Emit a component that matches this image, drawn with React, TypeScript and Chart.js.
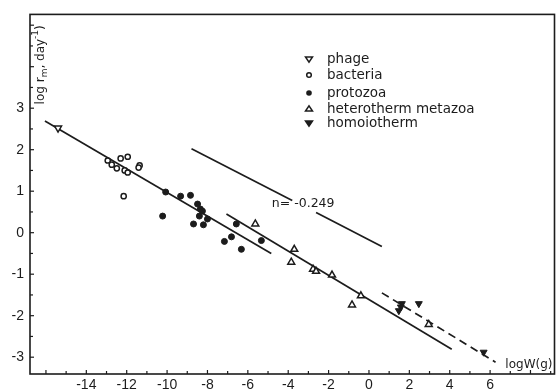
import React, { useEffect, useRef } from 'react';
import { Chart, registerables } from 'chart.js';

Chart.register(...registerables);

// ---------- data (log W in g, log r_m per day) ----------
const phageX = [-15.4];
const phageY = [2.52];

const bacteriaX = [-12.94, -12.74, -12.49, -12.3, -11.95, -12.1, -11.95, -11.36, -11.41, -12.15];
const bacteriaY = [1.74, 1.64, 1.55, 1.79, 1.83, 1.5, 1.45, 1.62, 1.57, 0.88];

const protozoaX = [-10.07, -9.33, -8.84, -8.49, -8.35, -8.25, -8.4, -8.0, -10.22, -8.69, -8.2, -6.57, -6.81, -7.16, -6.32, -5.33];
const protozoaY = [0.98, 0.88, 0.9, 0.69, 0.57, 0.52, 0.4, 0.33, 0.4, 0.21, 0.19, 0.21, -0.1, -0.21, -0.4, -0.19];

const metazoaX = [-5.63, -3.7, -3.85, -2.77, -2.62, -1.83, -0.4, -0.84, 2.96];
const metazoaY = [0.21, -0.4, -0.71, -0.88, -0.93, -1.02, -1.52, -1.74, -2.21];

const homoioX = [1.63, 1.58, 1.48, 2.47, 5.68];
const homoioY = [-1.71, -1.79, -1.88, -1.71, -2.88];

// regression lines (end points)
const lineAX = [-16.05, -4.84];
const lineAY = [2.69, -0.5];
const lineBX = [-7.06, 4.1];
const lineBY = [0.45, -2.81];
const slopeLineX = [-8.79, -3.8, -2.62, 0.64];
const slopeLineY = [2.02, 0.778, 0.484, -0.33];
const dashLineX = [0.64, 6.27];
const dashLineY = [-1.45, -3.12];

const slopeLabel = 'n= -0.249';
const slopeLabelX = -3.26;
const slopeLabelY = 0.69;

const xTickLabels = [-16, -14, -12, -10, -8, -6, -4, -2, 0, 2, 4, 6];
const yTickLabels = [-3, -2, -1, 0, 1, 2, 3];

const legendLabels = ['phage', 'bacteria', 'protozoa', 'heterotherm metazoa', 'homoiotherm'];

const X_MIN = -16.79;
const X_MAX = 9.19;
const Y_MIN = -3.405;
const Y_MAX = 5.26;

const INK = '#1c1c1c';

const zip = (xs: number[], ys: number[]) => xs.map((x, i) => ({ x, y: ys[i] }));

function drawMarker(ctx: CanvasRenderingContext2D, kind: number, x: number, y: number) {
  ctx.save();
  ctx.lineWidth = 1.5;
  ctx.strokeStyle = INK;
  ctx.fillStyle = INK;
  const r = 3.5;
  if (kind === 0 || kind === 4) {
    ctx.beginPath();
    ctx.moveTo(x - r, y - r * 0.6);
    ctx.lineTo(x + r, y - r * 0.6);
    ctx.lineTo(x, y + r * 0.9);
    ctx.closePath();
    if (kind === 4) ctx.fill();
    ctx.stroke();
  } else if (kind === 3) {
    ctx.beginPath();
    ctx.moveTo(x - r, y + r * 0.6);
    ctx.lineTo(x + r, y + r * 0.6);
    ctx.lineTo(x, y - r * 0.9);
    ctx.closePath();
    ctx.stroke();
  } else if (kind === 1) {
    ctx.beginPath();
    ctx.arc(x, y, 2.3, 0, Math.PI * 2);
    ctx.stroke();
  } else {
    ctx.beginPath();
    ctx.arc(x, y, 2.8, 0, Math.PI * 2);
    ctx.fill();
  }
  ctx.restore();
}

const decorPlugin = {
  id: 'decor',
  afterDraw(chart: any) {
    const ctx: CanvasRenderingContext2D = chart.ctx;
    const { left, right, top, bottom } = chart.chartArea;
    const xs = chart.scales.x;
    const ys = chart.scales.y;
    ctx.save();
    // frame
    ctx.strokeStyle = INK;
    ctx.lineWidth = 1.6;
    ctx.strokeRect(left, top, right - left, bottom - top);
    // x minor ticks
    ctx.lineWidth = 1.2;
    for (let v = -16; v <= 9; v++) {
      const px = xs.getPixelForValue(v);
      ctx.beginPath();
      ctx.moveTo(px, bottom);
      ctx.lineTo(px, bottom - (v % 2 === 0 ? 4 : 3));
      ctx.stroke();
    }
    // y minor ticks
    for (let v = -3; v <= 5; v += 0.5) {
      const py = ys.getPixelForValue(v);
      ctx.beginPath();
      ctx.moveTo(left, py);
      ctx.lineTo(left + (Number.isInteger(v) ? 4 : 3), py);
      ctx.stroke();
    }
    ctx.fillStyle = INK;
    // y title (rotated)
    ctx.save();
    ctx.translate(left + 11, top + 90);
    ctx.rotate(-Math.PI / 2);
    ctx.textBaseline = 'middle';
    ctx.textAlign = 'left';
    const big = "12px 'DejaVu Sans', sans-serif";
    const small = "9px 'DejaVu Sans', sans-serif";
    let cx = 0;
    const put = (t: string, f: string, dy: number) => {
      ctx.font = f;
      ctx.fillText(t, cx, dy);
      cx += ctx.measureText(t).width;
    };
    put('log r', big, 0);
    put('m', small, 4);
    put(', day', big, 0);
    put('-1', small, -5);
    put(')', big, 0);
    ctx.restore();
    // x title
    ctx.font = "12px 'DejaVu Sans', sans-serif";
    ctx.textAlign = 'right';
    ctx.textBaseline = 'alphabetic';
    ctx.fillText('logW(g)', right - 2, bottom - 6);
    // slope label
    ctx.font = "12.5px 'DejaVu Sans', sans-serif";
    ctx.textAlign = 'center';
    ctx.textBaseline = 'middle';
    ctx.fillText(slopeLabel, xs.getPixelForValue(slopeLabelX), ys.getPixelForValue(slopeLabelY));
    // legend
    const rowsY = [59, 75, 93, 109, 123];
    ctx.font = "13.5px 'DejaVu Sans', sans-serif";
    ctx.textAlign = 'left';
    legendLabels.forEach((lab, i) => {
      drawMarker(ctx, i, 309, rowsY[i]);
      ctx.fillStyle = INK;
      ctx.fillText(lab, 327, rowsY[i]);
    });
    ctx.restore();
  },
};

export default function App() {
  const ref = useRef<HTMLCanvasElement>(null);
  useEffect(() => {
    if (!ref.current) return;
    const lineDs = (xs: number[], ys: number[], dash: number[] = []) => ({
      data: zip(xs, ys),
      showLine: true,
      borderColor: INK,
      borderWidth: 1.7,
      borderDash: dash,
      pointRadius: 0,
      fill: false,
    });
    const chart = new Chart(ref.current, {
      type: 'scatter',
      data: {
        datasets: [
          {
            data: zip(phageX, phageY),
            pointStyle: 'triangle',
            rotation: 180,
            pointRadius: 4,
            pointBackgroundColor: '#fff',
            pointBorderColor: INK,
            pointBorderWidth: 1.5,
          },
          {
            data: zip(bacteriaX, bacteriaY),
            pointStyle: 'circle',
            pointRadius: 2.6,
            pointBackgroundColor: '#fff',
            pointBorderColor: INK,
            pointBorderWidth: 1.5,
          },
          {
            data: zip(protozoaX, protozoaY),
            pointStyle: 'circle',
            pointRadius: 3,
            pointBackgroundColor: INK,
            pointBorderColor: INK,
            pointBorderWidth: 1,
          },
          {
            data: zip(metazoaX, metazoaY),
            pointStyle: 'triangle',
            pointRadius: 4,
            pointBackgroundColor: '#fff',
            pointBorderColor: INK,
            pointBorderWidth: 1.5,
          },
          {
            data: zip(homoioX, homoioY),
            pointStyle: 'triangle',
            rotation: 180,
            pointRadius: 4,
            pointBackgroundColor: INK,
            pointBorderColor: INK,
            pointBorderWidth: 1,
          },
          lineDs(lineAX, lineAY),
          lineDs(lineBX, lineBY),
          lineDs(slopeLineX.slice(0, 2), slopeLineY.slice(0, 2)),
          lineDs(slopeLineX.slice(2), slopeLineY.slice(2)),
          lineDs(dashLineX, dashLineY, [8, 5]),
        ] as any,
      },
      options: {
        responsive: false,
        animation: false,
        devicePixelRatio: 1,
        layout: { padding: { top: 10, right: 4, left: 0, bottom: 0 } },
        plugins: { legend: { display: false }, tooltip: { enabled: false } },
        scales: {
          x: {
            type: 'linear',
            min: X_MIN,
            max: X_MAX,
            grid: { display: false, drawTicks: false },
            border: { display: false },
            afterFit: (s: any) => {
              s.height = 18;
            },
            ticks: {
              stepSize: 1,
              autoSkip: false,
              maxRotation: 0,
              padding: 3,
              color: INK,
              font: { family: "'Liberation Sans Narrow', 'Liberation Sans', sans-serif", size: 14 },
              callback: (v: any) => {
                const n = Math.round(Number(v));
                return Math.abs(Number(v) - n) < 1e-6 && xTickLabels.includes(n) ? String(n) : '';
              },
            },
          },
          y: {
            type: 'linear',
            min: Y_MIN,
            max: Y_MAX,
            grid: { display: false, drawTicks: false },
            border: { display: false },
            afterFit: (s: any) => {
              s.width = 30;
            },
            ticks: {
              stepSize: 1,
              autoSkip: false,
              padding: 6,
              color: INK,
              font: { family: "'Liberation Sans Narrow', 'Liberation Sans', sans-serif", size: 14 },
              callback: (v: any) => {
                const n = Math.round(Number(v));
                return Math.abs(Number(v) - n) < 1e-6 && yTickLabels.includes(n) ? String(n) : '';
              },
            },
          },
        },
      },
      plugins: [decorPlugin],
    } as any);
    return () => chart.destroy();
  }, []);
  return (
    <div style={{ position: 'absolute', left: 0, top: 0, width: 560, height: 392, background: '#fff' }}>
      <canvas ref={ref} width={560} height={392} />
    </div>
  );
}
